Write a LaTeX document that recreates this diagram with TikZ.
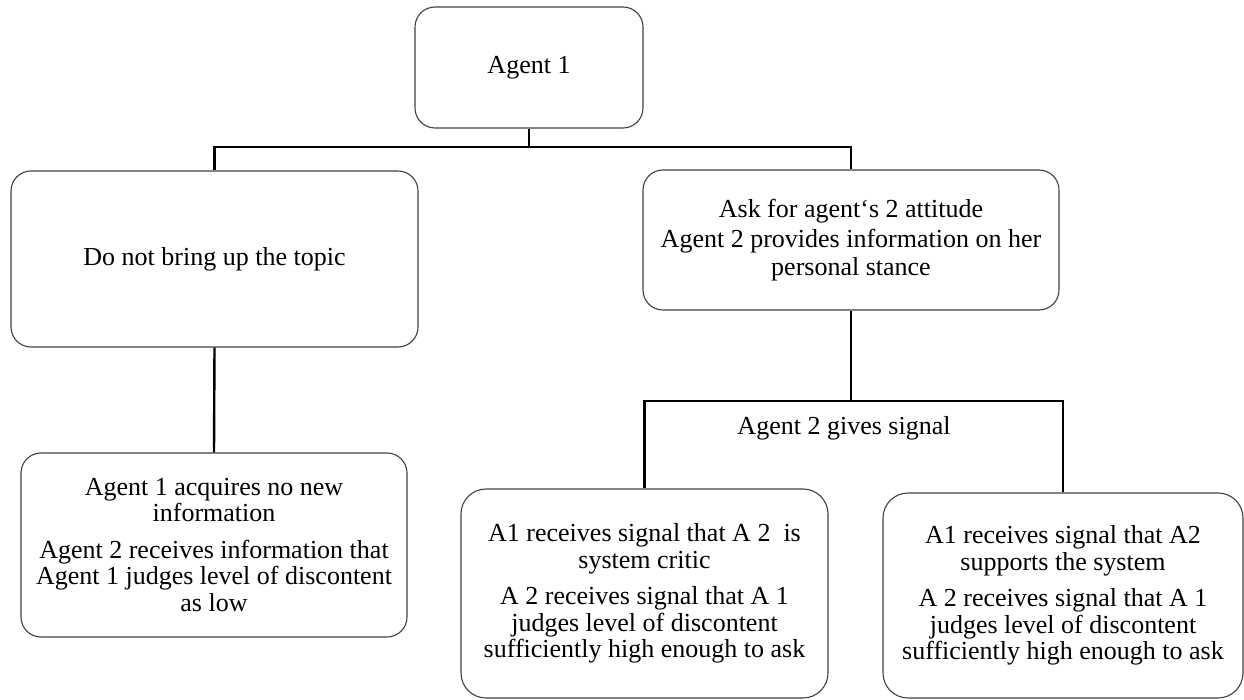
\documentclass[tikz,border=0pt]{standalone}
\usepackage{fontspec}
\setmainfont{Liberation Serif}
\tikzset{
  box/.style={draw=black!75, line width=1.1pt, rounded corners=20pt, rectangle, align=center, inner sep=0pt,
    font=\fontsize{26}{26.5}\selectfont},
  conn/.style={draw=black, line width=2.4pt},
  lbl/.style={inner sep=0pt, font=\fontsize{26}{26.5}\selectfont}
}
\begin{document}
\begin{tikzpicture}[x=1pt,y=-1pt]
\useasboundingbox (0,0) rectangle (1244,700);
% boxes
\node[box, minimum width=228pt, minimum height=121pt] (a1) at (529,67.5) {Agent 1};
\node[box, minimum width=407pt, minimum height=176pt] (left) at (214.5,259) {Do not bring up the topic};
\node[box, minimum width=416pt, minimum height=140pt] (right) at (851,240) {Ask for agent‘s 2 attitude\\[4pt]Agent 2 provides information on her\\[1pt]personal stance};
\node[box, minimum width=386pt, minimum height=184pt] (bl) at (214,545) {Agent 1 acquires no new\\information\\[10pt]Agent 2 receives information that\\Agent 1 judges level of discontent\\as low};
\node[box, minimum width=367pt, minimum height=209pt, rounded corners=25pt] (bm) at (644.5,593.5) {A1 receives signal that A 2 \ is\\system critic\\[10pt]A 2 receives signal that A 1\\judges level of discontent\\sufficiently high enough to ask};
\node[box, minimum width=360pt, minimum height=205pt, rounded corners=25pt] (br) at (1063,595.5) {A1 receives signal that A2\\supports the system\\[10pt]A 2 receives signal that A 1\\judges level of discontent\\sufficiently high enough to ask};
\node[lbl] (sig) at (844,428) {Agent 2 gives signal};
% junctions
\coordinate (j1) at (529,147);
\coordinate (j2) at (851,401);
% connectors
\draw[conn] (a1.south) -- (j1);
\draw[conn] (left.north) |- (j1) -| (right.north);
\draw[conn] (left.south) -- (bl.north);
\draw[conn] (right.south) -- (j2);
\draw[conn] (bm.north) |- (j2) -| (br.north);
\end{tikzpicture}
\end{document}
